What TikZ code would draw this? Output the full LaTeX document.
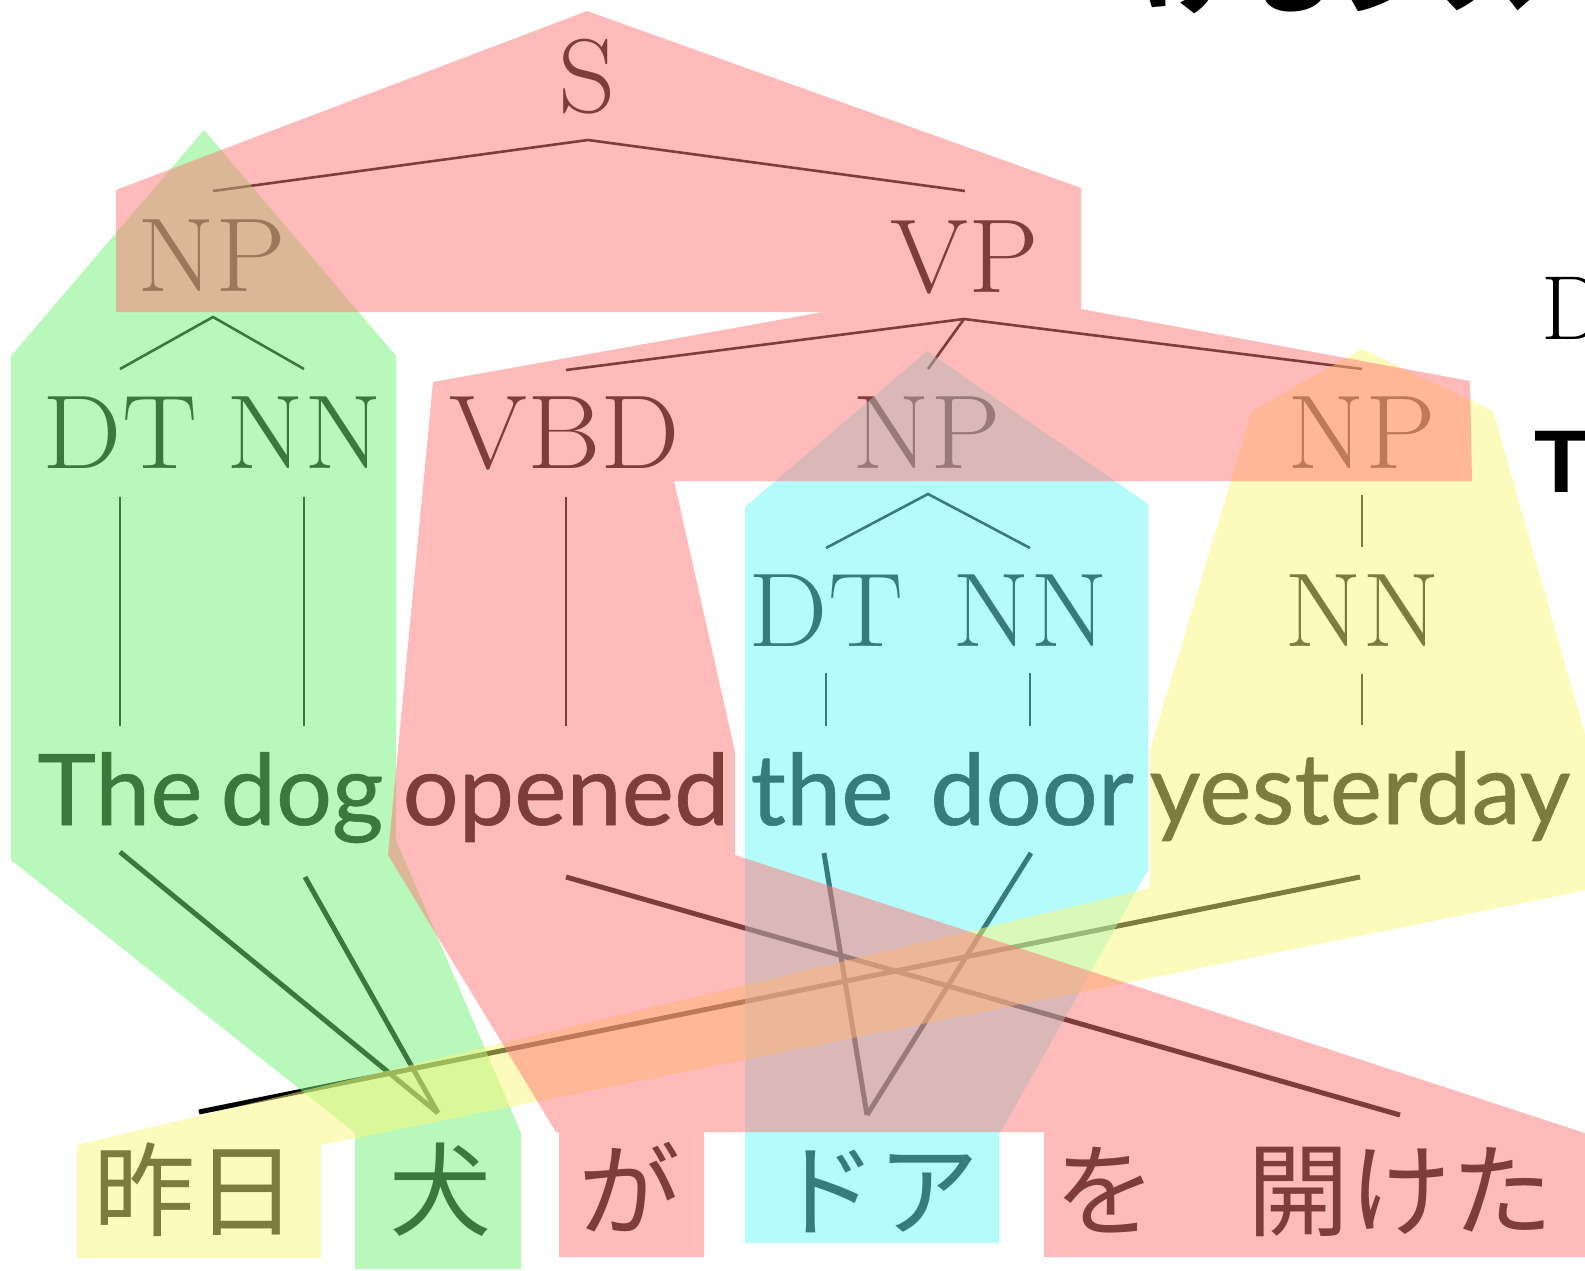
\documentclass[tikz,border=0pt]{standalone}
\usepackage{fontspec}
\newfontfamily\wordfont[FakeBold=0.6]{Lato}
\newfontfamily\jpfont{Noto Sans CJK JP}
\newfontfamily\hvfont{Liberation Sans}
\definecolor{pk}{RGB}{255,119,119}
\definecolor{gr}{RGB}{115,243,119}
\definecolor{cy}{RGB}{109,249,249}
\definecolor{yl}{RGB}{253,249,121}
\tikzset{
  tag/.style={font=\fontsize{105}{105}\selectfont, inner sep=0pt, anchor=base, xscale=1.07},
  word/.style={font=\wordfont\fontsize{99}{99}\selectfont, inner sep=0pt, anchor=base},
  jp/.style={font=\jpfont\fontsize{102}{102}\selectfont, inner sep=0pt, anchor=base},
  tl/.style={line width=2.6pt},
  al/.style={line width=5pt},
  veil/.style={fill opacity=0.5}
}
\begin{document}
\begin{tikzpicture}[x=1pt,y=-1pt]
\path[use as bounding box] (0,0) rectangle (1585,1271);
\clip (0,0) rectangle (1585,1271);
\fill[white] (0,0) rectangle (1585,1271);

% ---- cut-off slide texts
\node[font=\jpfont\bfseries\fontsize{100}{100}\selectfont, inner sep=0pt, anchor=base west] (title) at (1138,6) {けるシス};
\node[font=\fontsize{91}{91}\selectfont, inner sep=0pt, anchor=base west] (Dtxt) at (1541,339) {D};
\node[font=\hvfont\bfseries\fontsize{89}{89}\selectfont, inner sep=0pt, anchor=base west] (Ttxt) at (1534,492) {T};

% ---- tree labels
\node[tag] (S) at (587,113) {S};
\node[tag] (NPa) at (212,291) {NP};
\node[tag] (VP) at (965,292) {VP};
\node[tag] (DTa) at (120,468) {DT};
\node[tag] (NNa) at (304,468) {NN};
\node[tag] (VBD) at (565,468) {VBD};
\node[tag] (NPb) at (927,468) {NP};
\node[tag] (NPc) at (1362,468) {NP};
\node[tag] (DTb) at (826,646) {DT};
\node[tag] (NNb) at (1030,646) {NN};
\node[tag] (NNc) at (1362,646) {NN};

% ---- English words
\node[word] (The) at (120,825) {The};
\node[word] (dog) at (302,825) {dog};
\node[word] (opened) at (566,825) {opened};
\node[word] (the) at (822,825) {the};
\node[word] (door) at (1032,825) {door};
\node[word] (yesterday) at (1360,824) {yesterday};

% ---- Japanese words
\node[jp] (kinou) at (195,1228) {昨日};
\node[jp] (inu) at (440,1228) {犬};
\node[jp] (ga) at (629,1228) {が};
\node[jp] (doa) at (877,1228) {ドア};
\node[jp] (wo) at (1105,1228) {を};
\node[jp] (aketa) at (1400,1228) {開けた};

% ---- connector ends
\coordinate (S-d) at (588,140);
\coordinate (NPa-u) at (213,191);
\coordinate (VP-u) at (965,191);
\coordinate (NPa-d) at (213,317);
\coordinate (DTa-u) at (120,369);
\coordinate (NNa-u) at (304,369);
\coordinate (DTa-d) at (120,497);
\coordinate (The-u) at (120,726);
\coordinate (NNa-d) at (304,497);
\coordinate (dog-u) at (304,726);
\coordinate (VP-d) at (964,319);
\coordinate (VBD-u) at (566,370);
\coordinate (NPb-u) at (928,369);
\coordinate (NPc-u) at (1362,369);
\coordinate (VBD-d) at (566,497);
\coordinate (opened-u) at (566,726);
\coordinate (NPb-d) at (928,494);
\coordinate (DTb-u) at (826,548);
\coordinate (NNb-u) at (1030,548);
\coordinate (DTb-d) at (826,673);
\coordinate (the-u) at (826,726);
\coordinate (NNb-d) at (1030,673);
\coordinate (door-u) at (1030,726);
\coordinate (NPc-d) at (1362,495);
\coordinate (NNc-u) at (1362,547);
\coordinate (NNc-d) at (1362,674);
\coordinate (yesterday-u) at (1362,725);

\coordinate (The-d) at (120,852);
\coordinate (dog-d) at (305,877);
\coordinate (opened-d) at (566,877);
\coordinate (the-d) at (824,853);
\coordinate (door-d) at (1031,853);
\coordinate (yesterday-d) at (1360,877);
\coordinate (inu-u) at (438,1113);
\coordinate (aketa-u) at (1400,1115);
\coordinate (doa-u) at (867,1115);
\coordinate (kinou-u) at (199,1112);

% ---- tree edges
\draw[tl] (NPa-u) -- (S-d) -- (VP-u);
\draw[tl] (DTa-u) -- (NPa-d) -- (NNa-u);
\draw[tl] (DTa-d) -- (The-u);
\draw[tl] (NNa-d) -- (dog-u);
\draw[tl] (VBD-u) -- (VP-d) -- (NPc-u);
\draw[tl] (VP-d) -- (NPb-u);
\draw[tl] (VBD-d) -- (opened-u);
\draw[tl] (DTb-u) -- (NPb-d) -- (NNb-u);
\draw[tl] (DTb-d) -- (the-u);
\draw[tl] (NNb-d) -- (door-u);
\draw[tl] (NPc-d) -- (NNc-u);
\draw[tl] (NNc-d) -- (yesterday-u);

% ---- alignment links
\draw[al] (The-d) -- (inu-u);
\draw[al] (dog-d) -- (inu-u);
\draw[al] (opened-d) -- (aketa-u);
\draw[al] (the-d) -- (doa-u);
\draw[al] (door-d) -- (doa-u);
\draw[al] (yesterday-d) -- (kinou-u);

% ---- coloured veils (drawn over the black text)
\fill[gr, veil] (204,130) -- (396,356) -- (396,840) -- (521,1133) -- (521,1269)
  -- (355,1269) -- (355,1133) -- (11,860) -- (11,356) -- cycle;
\fill[cy, veil] (927,351) -- (1148,504) -- (1148,870) -- (999,1135) -- (999,1243)
  -- (745,1243) -- (745,507) -- cycle;
\fill[yl, veil] (1362,349) -- (1493,411) -- (1627,882) -- (321,1145) -- (321,1258)
  -- (77,1258) -- (77,1145) -- (1150,888) -- (1150,750) -- (1252,411) -- cycle;
\fill[pk, veil] (116,312) -- (116,190) -- (587,11) -- (1081,188) -- (1081,312) -- cycle
  (433,382) -- (840,309) -- (1081,309) -- (1470,381) -- (1472,481) -- (674,481)
  -- (735,752) -- (735,855) -- (1600,1138) -- (1600,1257) -- (1044,1257)
  -- (1044,1132) -- (704,1132) -- (704,1257) -- (559,1257) -- (559,1132)
  -- (556,1132) -- (388,855) -- cycle;
\end{tikzpicture}
\end{document}
